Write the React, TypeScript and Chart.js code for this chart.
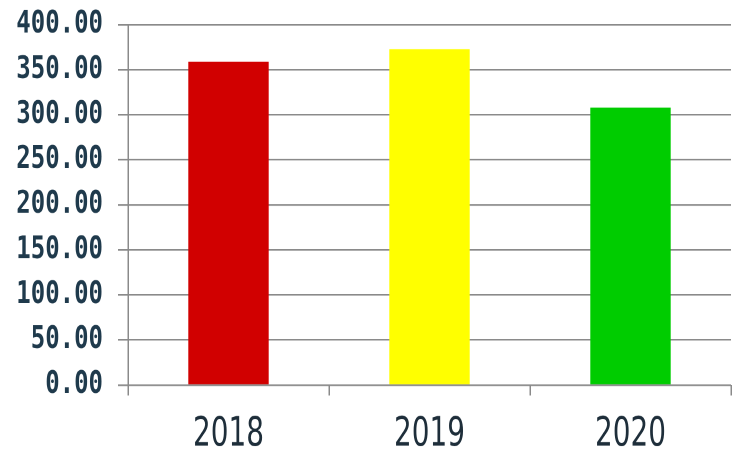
import { useEffect, useRef } from 'react';
import { Chart, registerables } from 'chart.js';

Chart.register(...registerables);

const years = ['2018', '2019', '2020'];
const amounts = [359, 373, 308];
const barColors = ['#d10000', '#ffff00', '#00cc00'];
const yTicks = [0, 50, 100, 150, 200, 250, 300, 350, 400];

// the reference is a vertically stretched picture, so draw short and stretch
const W = 737;
const H = 349;
const STRETCH = 454 / H;

export default function App() {
  const canvasRef = useRef<HTMLCanvasElement>(null);

  useEffect(() => {
    if (!canvasRef.current) return;
    document.body.style.margin = '0';

    const chart = new Chart(canvasRef.current, {
      type: 'bar',
      data: {
        labels: years,
        datasets: [{
          data: amounts,
          backgroundColor: barColors,
          borderWidth: 0,
          barPercentage: 0.4,
          categoryPercentage: 1,
        }],
      },
      options: {
        responsive: false,
        animation: false,
        devicePixelRatio: 2,
        layout: { padding: { top: 19, right: 6, left: 0, bottom: 0 } },
        plugins: {
          legend: { display: false },
          tooltip: { enabled: false },
        },
        scales: {
          x: {
            offset: true,
            grid: {
              offset: true,
              drawOnChartArea: false,
              drawTicks: true,
              tickLength: 8,
              color: '#8a8a8a',
              lineWidth: 1.5,
            },
            border: { display: false },
            afterFit: (s) => { s.height = 53; },
            ticks: {
              color: '#1e2e3a',
              padding: 12,
              font: { family: '"DejaVu Sans Condensed", sans-serif', size: 31 },
            },
          },
          y: {
            min: 0,
            max: 400,
            afterBuildTicks: (s) => { s.ticks = yTicks.map((v) => ({ value: v })); },
            afterFit: (s) => {
              s.width = 128;
              s.paddingTop = 0;
              s.paddingBottom = 0;
            },
            grid: {
              color: '#8a8a8a',
              lineWidth: 1.3,
              tickLength: 10,
            },
            border: { color: '#8a8a8a', width: 1.5 },
            ticks: {
              color: '#1f3a4c',
              padding: 15,
              font: { family: '"DejaVu Sans Mono", monospace', size: 24, weight: 'bold' },
              callback: (v) => Number(v).toFixed(2),
            },
          },
        },
      },
    });

    return () => chart.destroy();
  }, []);

  return (
    <div style={{ position: 'fixed', left: 0, top: 0, width: W, height: 454, background: '#fff', overflow: 'hidden' }}>
      <div style={{ width: W, height: H, transform: `scaleY(${STRETCH})`, transformOrigin: 'top left' }}>
        <canvas ref={canvasRef} width={W} height={H} style={{ width: W, height: H }} />
      </div>
    </div>
  );
}
